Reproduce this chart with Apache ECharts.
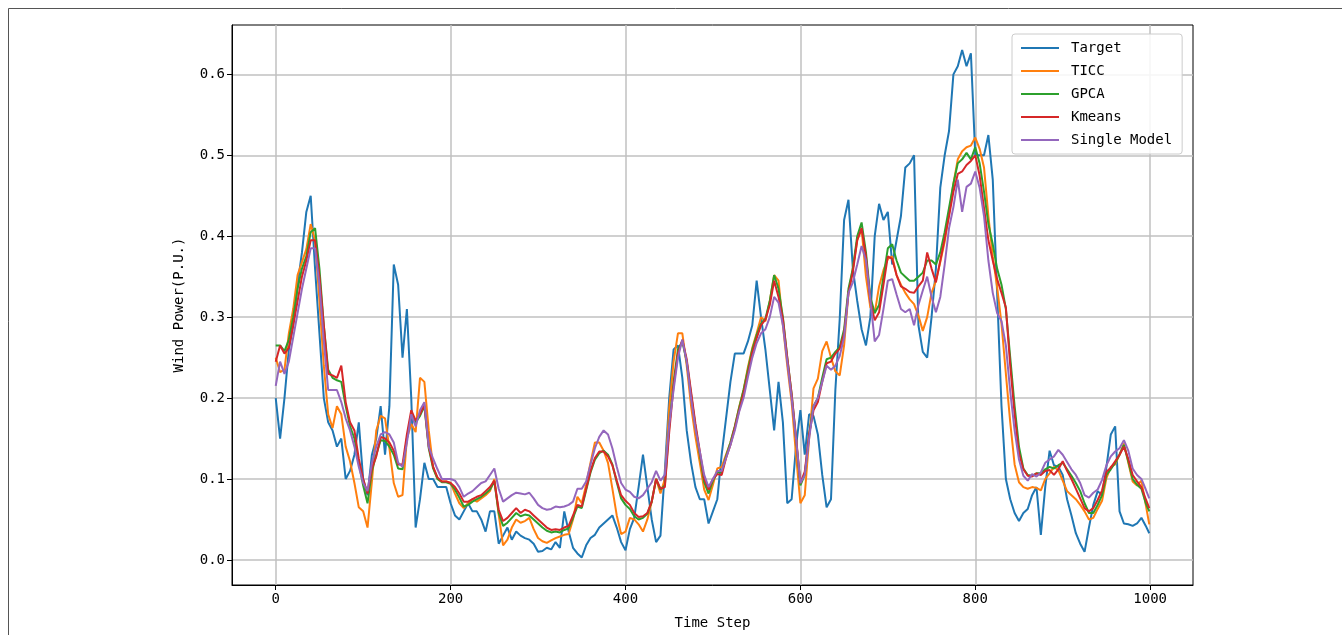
<!DOCTYPE html>
<html>
<head>
<meta charset="utf-8">
<script src="https://cdn.jsdelivr.net/npm/echarts@6/dist/echarts.min.js"></script>
<style>
  html, body { margin: 0; padding: 0; background: #ffffff; }
  #chart { width: 1342px; height: 635px; }
</style>
</head>
<body>
<div id="chart"></div>
<script>
// Wind power forecasts of four models against the measured target, sampled every 5 steps (last point at 999).
const seriesNames = ['Target', 'TICC', 'GPCA', 'Kmeans', 'Single Model'];
const seriesColors = ['#1f77b4', '#ff7f0e', '#2ca02c', '#d62728', '#9467bd'];
const xTickValues = [0, 200, 400, 600, 800, 1000];
const yTickValues = [0, 0.1, 0.2, 0.3, 0.4, 0.5, 0.6];

const timeSteps = [];
for (let t = 0; t < 1000; t += 5) timeSteps.push(t);
timeSteps.push(999);

const target = [
  0.20, 0.15, 0.20, 0.26, 0.29, 0.34, 0.38, 0.43, 0.45, 0.36,
  0.28, 0.20, 0.17, 0.16, 0.14, 0.15, 0.10, 0.11, 0.13, 0.17,
  0.10, 0.08, 0.13, 0.15, 0.19, 0.13, 0.19, 0.365, 0.34, 0.25,
  0.31, 0.20, 0.04, 0.075, 0.12, 0.10, 0.10, 0.09, 0.09, 0.09,
  0.07, 0.055, 0.05, 0.06, 0.07, 0.06, 0.06, 0.05, 0.035, 0.06,
  0.06, 0.02, 0.03, 0.04, 0.025, 0.035, 0.03, 0.027, 0.025, 0.02,
  0.01, 0.011, 0.015, 0.013, 0.022, 0.015, 0.06, 0.035, 0.015, 0.008,
  0.003, 0.018, 0.027, 0.031, 0.04, 0.045, 0.05, 0.055, 0.04, 0.022,
  0.012, 0.038, 0.052, 0.09, 0.13, 0.09, 0.05, 0.022, 0.03, 0.11,
  0.20, 0.26, 0.265, 0.225, 0.16, 0.12, 0.09, 0.075, 0.075, 0.045,
  0.06, 0.075, 0.13, 0.175, 0.22, 0.255, 0.255, 0.255, 0.27, 0.29,
  0.345, 0.30, 0.26, 0.21, 0.16, 0.22, 0.17, 0.07, 0.075, 0.14,
  0.185, 0.13, 0.18, 0.178, 0.155, 0.105, 0.065, 0.075, 0.21, 0.298,
  0.42, 0.445, 0.36, 0.32, 0.285, 0.265, 0.30, 0.40, 0.44, 0.42,
  0.43, 0.365, 0.395, 0.425, 0.485, 0.49, 0.50, 0.29, 0.257, 0.25,
  0.30, 0.36, 0.46, 0.50, 0.53, 0.60, 0.61, 0.63, 0.61, 0.626,
  0.50, 0.50, 0.50, 0.525, 0.47, 0.33, 0.19, 0.10, 0.075, 0.058,
  0.048, 0.058, 0.063, 0.08, 0.09, 0.031, 0.09, 0.135, 0.117, 0.115,
  0.105, 0.075, 0.055, 0.033, 0.02, 0.01, 0.04, 0.068, 0.085, 0.08,
  0.115, 0.155, 0.165, 0.06, 0.045, 0.044, 0.042, 0.045, 0.052, 0.042,
  0.033
];

const ticc = [
  0.25, 0.232, 0.235, 0.28, 0.31, 0.352, 0.368, 0.384, 0.415, 0.395,
  0.32, 0.24, 0.18, 0.163, 0.19, 0.18, 0.14, 0.122, 0.095, 0.065,
  0.06, 0.04, 0.097, 0.16, 0.178, 0.175, 0.138, 0.095, 0.078, 0.08,
  0.15, 0.168, 0.158, 0.225, 0.22, 0.16, 0.115, 0.10, 0.097, 0.097,
  0.095, 0.082, 0.07, 0.064, 0.07, 0.075, 0.072, 0.076, 0.08, 0.085,
  0.10, 0.056, 0.018, 0.025, 0.04, 0.05, 0.046, 0.048, 0.052, 0.038,
  0.027, 0.023, 0.021, 0.024, 0.027, 0.029, 0.031, 0.032, 0.05, 0.078,
  0.07, 0.093, 0.12, 0.145, 0.145, 0.135, 0.12, 0.088, 0.055, 0.032,
  0.035, 0.052, 0.05, 0.044, 0.035, 0.05, 0.072, 0.10, 0.082, 0.10,
  0.187, 0.245, 0.28, 0.28, 0.24, 0.19, 0.152, 0.12, 0.087, 0.074,
  0.093, 0.113, 0.115, 0.13, 0.145, 0.165, 0.189, 0.21, 0.238, 0.262,
  0.28, 0.30, 0.295, 0.32, 0.352, 0.345, 0.29, 0.24, 0.195, 0.13,
  0.07, 0.08, 0.15, 0.212, 0.224, 0.258, 0.27, 0.25, 0.233, 0.228,
  0.265, 0.33, 0.36, 0.395, 0.409, 0.35, 0.312, 0.305, 0.338, 0.358,
  0.372, 0.375, 0.352, 0.34, 0.33, 0.322, 0.316, 0.302, 0.283, 0.30,
  0.33, 0.345, 0.368, 0.393, 0.428, 0.465, 0.495, 0.505, 0.51, 0.512,
  0.522, 0.508, 0.485, 0.425, 0.375, 0.337, 0.292, 0.23, 0.17, 0.118,
  0.096, 0.09, 0.088, 0.09, 0.089, 0.086, 0.10, 0.107, 0.115, 0.111,
  0.098, 0.085, 0.08, 0.075, 0.068, 0.06, 0.05, 0.052, 0.063, 0.073,
  0.101, 0.115, 0.118, 0.13, 0.144, 0.12, 0.097, 0.092, 0.098, 0.068,
  0.044
];

const gpca = [
  0.265, 0.265, 0.258, 0.272, 0.30, 0.335, 0.36, 0.375, 0.405, 0.41,
  0.36, 0.29, 0.235, 0.225, 0.222, 0.22, 0.19, 0.165, 0.15, 0.12,
  0.092, 0.07, 0.11, 0.13, 0.148, 0.147, 0.14, 0.13, 0.113, 0.112,
  0.15, 0.18, 0.17, 0.178, 0.19, 0.138, 0.113, 0.10, 0.096, 0.096,
  0.094, 0.087, 0.077, 0.066, 0.068, 0.072, 0.075, 0.078, 0.082, 0.087,
  0.097, 0.058, 0.042, 0.046, 0.052, 0.058, 0.054, 0.056, 0.055, 0.05,
  0.045, 0.04, 0.036, 0.034, 0.035, 0.034, 0.037, 0.039, 0.052, 0.066,
  0.064, 0.086, 0.108, 0.124, 0.132, 0.135, 0.13, 0.118, 0.096, 0.076,
  0.068, 0.063, 0.054, 0.05, 0.052, 0.057, 0.072, 0.10, 0.087, 0.092,
  0.165, 0.22, 0.26, 0.27, 0.245, 0.205, 0.165, 0.13, 0.096, 0.082,
  0.098, 0.108, 0.108, 0.128, 0.145, 0.165, 0.188, 0.21, 0.235, 0.26,
  0.278, 0.292, 0.298, 0.32, 0.352, 0.335, 0.30, 0.25, 0.205, 0.15,
  0.092, 0.105, 0.155, 0.19, 0.20, 0.225, 0.248, 0.25, 0.257, 0.263,
  0.285, 0.335, 0.36, 0.40, 0.417, 0.38, 0.325, 0.305, 0.315, 0.35,
  0.385, 0.39, 0.37, 0.355, 0.35, 0.345, 0.345, 0.35, 0.355, 0.37,
  0.37, 0.365, 0.38, 0.405, 0.435, 0.465, 0.49, 0.495, 0.503, 0.495,
  0.51, 0.49, 0.455, 0.415, 0.39, 0.36, 0.34, 0.31, 0.25, 0.19,
  0.14, 0.113, 0.105, 0.104, 0.107, 0.107, 0.112, 0.115, 0.113, 0.117,
  0.12, 0.112, 0.104, 0.095, 0.085, 0.07, 0.058, 0.058, 0.068, 0.08,
  0.105, 0.112, 0.12, 0.13, 0.142, 0.122, 0.10, 0.093, 0.088, 0.07,
  0.06
];

const kmeans = [
  0.245, 0.265, 0.255, 0.262, 0.29, 0.32, 0.35, 0.37, 0.395, 0.395,
  0.35, 0.29, 0.23, 0.228, 0.225, 0.24, 0.195, 0.17, 0.16, 0.125,
  0.10, 0.082, 0.113, 0.128, 0.152, 0.15, 0.145, 0.135, 0.118, 0.118,
  0.155, 0.185, 0.172, 0.18, 0.192, 0.14, 0.115, 0.102, 0.097, 0.097,
  0.095, 0.09, 0.082, 0.072, 0.072, 0.075, 0.078, 0.08, 0.085, 0.09,
  0.098, 0.062, 0.048, 0.052, 0.058, 0.064, 0.058, 0.062, 0.06, 0.055,
  0.05, 0.045, 0.04, 0.037, 0.038, 0.037, 0.04, 0.042, 0.055, 0.068,
  0.066, 0.088, 0.11, 0.126, 0.134, 0.134, 0.128, 0.117, 0.098, 0.08,
  0.073, 0.068, 0.058, 0.053, 0.054, 0.058, 0.072, 0.10, 0.088, 0.09,
  0.158, 0.215, 0.255, 0.272, 0.248, 0.208, 0.168, 0.134, 0.10, 0.087,
  0.10, 0.106, 0.105, 0.126, 0.142, 0.163, 0.185, 0.206, 0.23, 0.256,
  0.274, 0.29, 0.297, 0.315, 0.345, 0.325, 0.298, 0.25, 0.205, 0.152,
  0.095, 0.109, 0.155, 0.185, 0.195, 0.22, 0.243, 0.245, 0.255, 0.261,
  0.28, 0.33, 0.356, 0.395, 0.41, 0.375, 0.32, 0.296, 0.306, 0.34,
  0.375, 0.372, 0.352, 0.338, 0.335, 0.331, 0.33, 0.338, 0.345, 0.38,
  0.36, 0.343, 0.37, 0.397, 0.425, 0.455, 0.477, 0.48, 0.488, 0.493,
  0.50, 0.475, 0.435, 0.395, 0.37, 0.347, 0.33, 0.312, 0.24, 0.18,
  0.132, 0.112, 0.104, 0.103, 0.107, 0.105, 0.11, 0.111, 0.105, 0.112,
  0.122, 0.11, 0.10, 0.088, 0.076, 0.064, 0.06, 0.064, 0.074, 0.086,
  0.109, 0.114, 0.122, 0.13, 0.14, 0.125, 0.105, 0.097, 0.09, 0.075,
  0.064
];

const singleModel = [
  0.215, 0.245, 0.23, 0.245, 0.275, 0.305, 0.335, 0.36, 0.385, 0.385,
  0.34, 0.27, 0.21, 0.21, 0.21, 0.195, 0.175, 0.16, 0.14, 0.115,
  0.095, 0.085, 0.12, 0.14, 0.155, 0.158, 0.155, 0.145, 0.12, 0.115,
  0.145, 0.18, 0.165, 0.185, 0.195, 0.14, 0.125, 0.112, 0.10, 0.10,
  0.10, 0.098, 0.09, 0.078, 0.082, 0.085, 0.09, 0.095, 0.097, 0.105,
  0.113, 0.088, 0.072, 0.076, 0.08, 0.083, 0.082, 0.081, 0.083, 0.076,
  0.068, 0.064, 0.062, 0.063, 0.066, 0.065, 0.066, 0.068, 0.072, 0.088,
  0.088, 0.097, 0.118, 0.138, 0.152, 0.16, 0.155, 0.138, 0.115, 0.095,
  0.087, 0.084, 0.078, 0.076, 0.08, 0.088, 0.096, 0.11, 0.098, 0.105,
  0.167, 0.21, 0.25, 0.272, 0.245, 0.20, 0.162, 0.134, 0.105, 0.09,
  0.10, 0.11, 0.11, 0.126, 0.142, 0.16, 0.183, 0.20, 0.226, 0.25,
  0.268, 0.28, 0.285, 0.30, 0.325, 0.318, 0.29, 0.245, 0.20, 0.15,
  0.095, 0.105, 0.15, 0.19, 0.20, 0.22, 0.24, 0.235, 0.24, 0.252,
  0.275, 0.33, 0.343, 0.365, 0.388, 0.37, 0.322, 0.27, 0.278, 0.31,
  0.345, 0.347, 0.328, 0.31, 0.306, 0.31, 0.29, 0.315, 0.333, 0.35,
  0.325, 0.306, 0.325, 0.365, 0.41, 0.436, 0.47, 0.43, 0.461, 0.465,
  0.48, 0.46, 0.425, 0.37, 0.33, 0.305, 0.295, 0.265, 0.208, 0.16,
  0.124, 0.104, 0.098, 0.106, 0.103, 0.108, 0.12, 0.124, 0.128, 0.136,
  0.13, 0.121, 0.112, 0.105, 0.095, 0.08, 0.077, 0.083, 0.087, 0.099,
  0.117, 0.128, 0.134, 0.138, 0.148, 0.135, 0.113, 0.105, 0.10, 0.087,
  0.076
];

const seriesValues = [target, ticc, gpca, kmeans, singleModel];

const FONT = "'DejaVu Sans Mono', monospace";
const chart = echarts.init(document.getElementById('chart'), null, { renderer: 'canvas' });

chart.setOption({
  animation: false,
  backgroundColor: '#ffffff',
  graphic: [
    { type: 'line', shape: { x1: 8.5, y1: 8.5, x2: 1342, y2: 8.5 }, style: { stroke: '#555555', lineWidth: 1 } },
    { type: 'line', shape: { x1: 8.5, y1: 8.5, x2: 8.5, y2: 635 }, style: { stroke: '#555555', lineWidth: 1 } }
  ],
  grid: {
    left: 232, top: 25, width: 961, height: 562,
    show: true, borderColor: '#000000', borderWidth: 1, backgroundColor: 'transparent',
    containLabel: false
  },
  legend: {
    orient: 'vertical',
    left: 1012, top: 34,
    padding: [7, 10, 7, 9],
    itemGap: 9,
    itemWidth: 38,
    itemHeight: 2,
    icon: 'rect',
    backgroundColor: 'rgba(255,255,255,0.85)',
    borderColor: '#cccccc', borderWidth: 1, borderRadius: 3,
    textStyle: { fontFamily: FONT, fontSize: 14, lineHeight: 14, color: '#000000', padding: [0, 0, 0, 7] },
    data: seriesNames
  },
  xAxis: {
    type: 'value',
    min: -50, max: 1049,
    name: 'Time Step',
    nameLocation: 'middle',
    nameGap: 31,
    nameTextStyle: { fontFamily: FONT, fontSize: 14, color: '#000000' },
    axisLine: { show: true, onZero: false, lineStyle: { color: '#000000', width: 1 } },
    axisTick: { show: true, length: 5, customValues: xTickValues, lineStyle: { color: '#000000' } },
    axisLabel: {
      customValues: xTickValues, fontFamily: FONT, fontSize: 14, color: '#000000', margin: 7,
      formatter: v => String(v)
    },
    splitLine: { show: true, lineStyle: { color: '#c0c0c0', width: 1.5 } }
  },
  yAxis: {
    type: 'value',
    min: -0.031, max: 0.661,
    name: 'Wind Power(P.U.)',
    nameLocation: 'middle',
    nameGap: 46,
    nameTextStyle: { fontFamily: FONT, fontSize: 14, color: '#000000' },
    axisLine: { show: true, onZero: false, lineStyle: { color: '#000000', width: 1 } },
    axisTick: { show: true, length: 5, customValues: yTickValues, lineStyle: { color: '#000000' } },
    axisLabel: {
      customValues: yTickValues, fontFamily: FONT, fontSize: 14, color: '#000000', margin: 7,
      formatter: v => v.toFixed(1)
    },
    splitLine: { show: true, lineStyle: { color: '#c0c0c0', width: 1.5 } }
  },
  series: seriesNames.map((name, k) => ({
    name,
    type: 'line',
    symbol: 'none',
    color: seriesColors[k],
    lineStyle: { color: seriesColors[k], width: 2 },
    data: timeSteps.map((t, i) => [t, seriesValues[k][i]])
  }))
});
</script>
</body>
</html>
